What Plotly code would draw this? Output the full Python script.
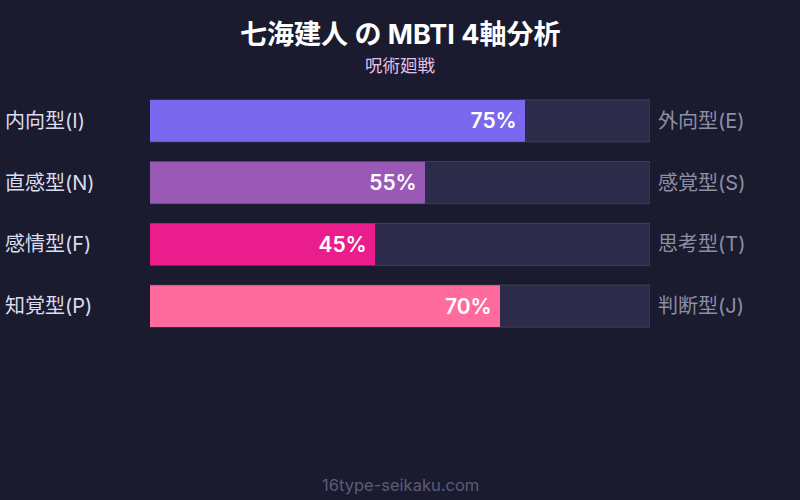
import plotly.graph_objects as go

left_labels = ["内向型(I)", "直感型(N)", "感情型(F)", "知覚型(P)"]
right_labels = ["外向型(E)", "感覚型(S)", "思考型(T)", "判断型(J)"]
values = [75, 55, 45, 70]
colors = ["#7b68ee", "#9b59b6", "#e91e8c", "#ff6b9d"]
track = [100, 100, 100, 100]

FONT = "Inter, 'Noto Sans CJK JP', sans-serif"
cats = list(range(len(values)))
PLOT_H = 247

fig = go.Figure()
fig.add_trace(go.Bar(
    x=track, y=cats, orientation="h",
    marker=dict(color="#2d2b4a", line=dict(color="#40405e", width=1)),
    width=0.68, hoverinfo="skip", showlegend=False,
))
fig.add_trace(go.Bar(
    x=values, y=cats, orientation="h",
    marker=dict(color=colors, cornerradius=9, line=dict(width=0)),
    width=0.68,
    text=[f"{v}%\u00a0" for v in values],
    textposition="inside", insidetextanchor="end",
    textfont=dict(family=FONT, size=21, color="white", weight=600),
    showlegend=False,
))

annotations = []
for i, (l, r) in enumerate(zip(left_labels, right_labels)):
    annotations.append(dict(x=-0.3, y=i, xref="paper", yref="y", text=l, showarrow=False,
                            xanchor="left", xshift=3, font=dict(family=FONT, size=20, color="#dcdcef")))
    annotations.append(dict(x=1, y=i, xref="paper", yref="y", text=r, showarrow=False,
                            xanchor="left", xshift=6, font=dict(family=FONT, size=20, color="#8e8ea6")))

annotations.append(dict(text="<b>七海建人 の MBTI 4軸分析</b>", x=0.5, y=1 + (90 - 34) / PLOT_H,
                        xref="paper", yref="paper", yanchor="middle", showarrow=False,
                        font=dict(family=FONT, size=27, color="white")))
annotations.append(dict(text="呪術廻戦", x=0.5, y=1 + (90 - 65) / PLOT_H,
                        xref="paper", yref="paper", yanchor="middle", showarrow=False,
                        font=dict(family=FONT, size=17.5, color="#e6bfe6")))
annotations.append(dict(text="16type-seikaku.com", x=0.5, y=-(485 - 337) / PLOT_H,
                        xref="paper", yref="paper", yanchor="middle", showarrow=False,
                        font=dict(family=FONT, size=16.5, color="#5c5c78")))

fig.update_layout(
    width=800, height=500,
    paper_bgcolor="#1a1b2e", plot_bgcolor="#1a1b2e",
    margin=dict(l=150, r=150, t=90, b=163),
    barmode="overlay",
    xaxis=dict(range=[0, 100], visible=False, fixedrange=True),
    yaxis=dict(range=[3.5, -0.5], visible=False, fixedrange=True),
    annotations=annotations,
    font=dict(family=FONT),
)

fig.write_html("out.html", config={"displayModeBar": False},
               post_script="document.body.style.margin='0';document.body.style.background='#1a1b2e';")
